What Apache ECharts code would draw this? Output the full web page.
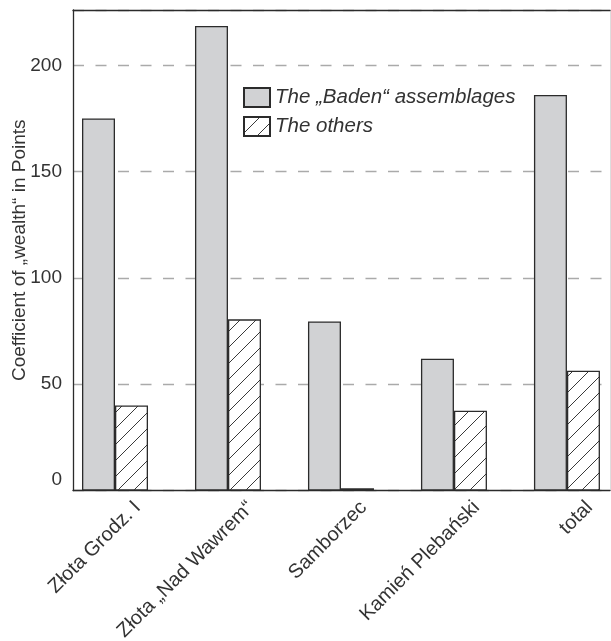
<!DOCTYPE html>
<html>
<head>
<meta charset="utf-8">
<script src="https://cdn.jsdelivr.net/npm/echarts@6/dist/echarts.min.js"></script>
<style>html,body{margin:0;padding:0;background:#fff}#c{width:611px;height:641px}</style>
</head>
<body>
<div id="c"></div>
<script>
const categories = ['Złota Grodz. I', 'Złota „Nad Wawrem“', 'Samborzec', 'Kamień Plebański', 'total'];
const badenValues = [175, 218.5, 79.5, 62, 186];
const otherValues = [40, 80.5, 1, 37.5, 56.3];
const yTicks = [0, 50, 100, 150, 200];
const seriesNames = ['The „Baden“ assemblages', 'The others'];

const FONT = 'Liberation Sans';
const TXT = '#333';

function hatch() {
  const c = document.createElement('canvas');
  c.width = 16; c.height = 16;
  const g = c.getContext('2d');
  g.fillStyle = '#fff';
  g.fillRect(0, 0, 16, 16);
  g.strokeStyle = '#3a3a3a';
  g.lineWidth = 1;
  g.beginPath();
  g.moveTo(-2, 18); g.lineTo(18, -2);
  g.moveTo(-2, 2); g.lineTo(2, -2);
  g.moveTo(14, 18); g.lineTo(18, 14);
  g.stroke();
  return c;
}

const chart = echarts.init(document.getElementById('c'), null, {renderer: 'canvas'});
const labelShift = 0.2;
const xMin = -0.3717, xMax = 4.381;
chart.setOption({
  animation: false,
  backgroundColor: '#fff',
  textStyle: {fontFamily: FONT, color: TXT},
  grid: {left: 73, right: 1, top: 10, bottom: 150.5, containLabel: false, outerBoundsMode: 'none'},
  legend: {
    left: 243, top: 87, orient: 'vertical', itemWidth: 26, itemHeight: 19, itemGap: 8,
    padding: 0, icon: 'rect',
    textStyle: {fontFamily: FONT, fontSize: 20.5, fontStyle: 'italic', color: TXT},
    data: seriesNames
  },
  xAxis: [{
    type: 'value',
    min: xMin, max: xMax,
    splitLine: {show: false},
    axisTick: {show: false},
    axisLine: {show: true, onZero: false, lineStyle: {color: '#2b2b2b', width: 1.3}},
    axisLabel: {
      customValues: categories.map((_, i) => i + labelShift),
      formatter: v => categories[Math.round(v - labelShift)],
      rotate: 45, margin: 14, hideOverlap: false,
      fontFamily: FONT, fontSize: 20, color: TXT
    }
  }, {
    type: 'value', position: 'top',
    min: xMin, max: xMax,
    splitLine: {show: false}, axisTick: {show: false}, axisLabel: {show: false},
    axisLine: {show: true, onZero: false, lineStyle: {color: '#2b2b2b', width: 1.3}}
  }],
  yAxis: [{
    type: 'value', min: 0, max: 226, interval: 50,
    name: 'Coefficient of „wealth“ in Points',
    nameLocation: 'middle', nameGap: 44, nameMoveOverlap: false,
    nameTextStyle: {fontFamily: FONT, fontSize: 19, color: TXT},
    axisLine: {show: true, onZero: false, lineStyle: {color: '#2b2b2b', width: 1.3}},
    axisTick: {show: false},
    axisLabel: {
      showMaxLabel: false,
      margin: 11, fontFamily: FONT, fontSize: 19, color: TXT,
      formatter: v => (v === 0 ? '{z|0}' : String(v)),
      rich: {z: {fontFamily: FONT, fontSize: 19, color: TXT, padding: [0, 0, 22, 0]}}
    },
    splitLine: {
      show: true,
      lineStyle: {color: '#aaa', width: 1.3, type: [11, 11.5]}
    }
  }, {
    type: 'value', position: 'right', min: 0, max: 226,
    axisLine: {show: true, onZero: false, lineStyle: {color: '#ddd', width: 1}},
    axisTick: {show: false}, axisLabel: {show: false}, splitLine: {show: false}
  }],
  series: [{
    name: seriesNames[0], type: 'bar',
    data: badenValues.map((v, i) => [i, v]),
    barWidth: 33, barGap: '0%',
    itemStyle: {color: '#d1d2d4', borderColor: '#2b2b2b', borderWidth: 1.3}
  }, {
    name: seriesNames[1], type: 'bar',
    data: otherValues.map((v, i) => [i, v]),
    barWidth: 33, barGap: '0%',
    itemStyle: {color: {image: hatch(), repeat: 'repeat'}, borderColor: '#2b2b2b', borderWidth: 1.3}
  }]
});
</script>
</body>
</html>
